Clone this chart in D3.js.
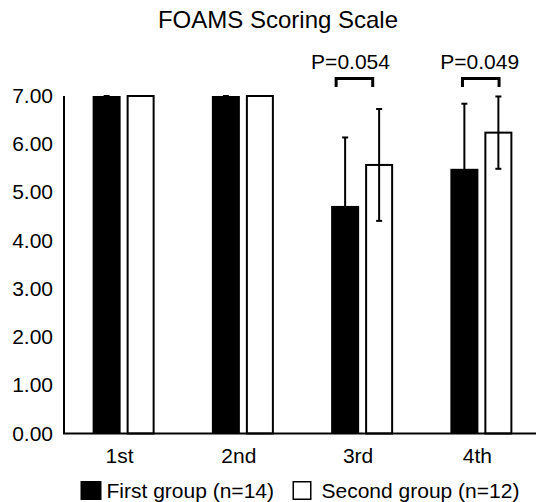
<!DOCTYPE html>
<html>
<head>
<meta charset="utf-8">
<script src="https://cdn.jsdelivr.net/npm/d3@7"></script>
<style>
  body { margin: 0; background: #fff; }
  text { font-family: "Liberation Sans", Arial, sans-serif; fill: #000; }
</style>
</head>
<body>
<div id="chart"></div>
<script>
// data
var categories = ["1st", "2nd", "3rd", "4th"];
var groups = ["First group (n=14)", "Second group (n=12)"];
var firstMean = [7.00, 7.00, 4.72, 5.49];
var firstSD = [0, 0, 1.42, 1.35];
var secondMean = [7.00, 7.00, 5.57, 6.24];
var secondSD = [0, 0, 1.16, 0.75];
var yTicks = [0, 1, 2, 3, 4, 5, 6, 7];
var pLabels = [null, null, "P=0.054", "P=0.049"];

var width = 536, height = 502;

var svg = d3.select("#chart")
  .append("svg")
    .attr("width", width)
    .attr("height", height);

// scales
var x = d3.scaleBand()
  .domain(categories)
  .range([64, 541]);

var y = d3.scaleLinear()
  .domain([0, 7])
  .range([433.5, 96]);

var barW = 28, gap = 6;

// title
svg.append("text")
  .attr("x", 278)
  .attr("y", 28)
  .attr("text-anchor", "middle")
  .style("font-size", "24px")
  .text("FOAMS Scoring Scale");

// y axis labels
svg.append("g").selectAll("text")
  .data(yTicks)
  .enter().append("text")
    .attr("x", 53)
    .attr("y", function(d) { return y(d) + 7; })
    .attr("text-anchor", "end")
    .style("font-size", "21px")
    .text(function(d) { return d.toFixed(2); });

// bars
var data = categories.map(function(c, i) {
  return [
    { cat: c, k: 0, mean: firstMean[i], sd: firstSD[i] },
    { cat: c, k: 1, mean: secondMean[i], sd: secondSD[i] }
  ];
});
var flat = [].concat.apply([], data);

function barX(d) {
  var c = x(d.cat) + x.bandwidth() / 2;
  return d.k === 0 ? c - gap / 2 - barW : c + gap / 2;
}

svg.append("g").selectAll("rect")
  .data(flat)
  .enter().append("rect")
    .attr("x", function(d) { return barX(d) + (d.k === 1 ? 1 : 0); })
    .attr("y", function(d) { return y(d.mean); })
    .attr("width", function(d) { return d.k === 1 ? barW - 2 : barW; })
    .attr("height", function(d) { return y(0) - y(d.mean); })
    .attr("fill", function(d) { return d.k === 0 ? "#000" : "#fff"; })
    .attr("stroke", "#000")
    .attr("stroke-width", function(d) { return d.k === 0 ? 0 : 2; });

// error bars
var err = svg.append("g").selectAll("g")
  .data(flat)
  .enter().append("g")
    .attr("stroke", "#000")
    .attr("stroke-width", 2);

err.append("line")
  .attr("x1", function(d) { return barX(d) + barW / 2; })
  .attr("x2", function(d) { return barX(d) + barW / 2; })
  .attr("y1", function(d) { return y(d.mean - d.sd); })
  .attr("y2", function(d) { return y(d.mean + d.sd); });

err.append("line")
  .attr("x1", function(d) { return barX(d) + barW / 2 - 3; })
  .attr("x2", function(d) { return barX(d) + barW / 2 + 3; })
  .attr("y1", function(d) { return y(d.mean + d.sd); })
  .attr("y2", function(d) { return y(d.mean + d.sd); });

err.filter(function(d) { return d.k === 1; }).append("line")
  .attr("x1", function(d) { return barX(d) + barW / 2 - 3; })
  .attr("x2", function(d) { return barX(d) + barW / 2 + 3; })
  .attr("y1", function(d) { return y(d.mean - d.sd); })
  .attr("y2", function(d) { return y(d.mean - d.sd); });

// axes lines
svg.append("line")
  .attr("x1", 64).attr("x2", 64)
  .attr("y1", y(7)).attr("y2", y(0))
  .attr("stroke", "#000").attr("stroke-width", 2);
svg.append("line")
  .attr("x1", 63).attr("x2", 541)
  .attr("y1", y(0)).attr("y2", y(0))
  .attr("stroke", "#000").attr("stroke-width", 2);

// category labels
svg.append("g").selectAll("text")
  .data(categories)
  .enter().append("text")
    .attr("x", function(d) { return x(d) + x.bandwidth() / 2 - 4; })
    .attr("y", 463)
    .attr("text-anchor", "middle")
    .style("font-size", "21px")
    .text(function(d) { return d; });

// significance brackets
var brOffset = [0, 0, -7.7, -0.6];
var txtOffset = [0, 0, -11.6, -1.7];
categories.forEach(function(c, i) {
  if (!pLabels[i]) return;
  var mid = x(c) + x.bandwidth() / 2;
  var cx = mid + brOffset[i];
  var x1 = cx - 18.3, x2 = cx + 18.3;
  svg.append("path")
    .attr("d", "M" + x1 + ",87V78.5H" + x2 + "V87")
    .attr("fill", "none")
    .attr("stroke", "#000")
    .attr("stroke-width", 3);
  svg.append("text")
    .attr("x", mid + txtOffset[i])
    .attr("y", 69)
    .attr("text-anchor", "middle")
    .style("font-size", "21px")
    .text(pLabels[i]);
});

// legend
var legend = svg.append("g");
var legX = [80.5, 292.5];
groups.forEach(function(g, i) {
  legend.append("rect")
    .attr("x", legX[i] + (i === 1 ? 0.75 : 0))
    .attr("y", 481 + (i === 1 ? 0.75 : 0))
    .attr("width", i === 1 ? 17.5 : 21)
    .attr("height", i === 1 ? 17.5 : 19)
    .attr("fill", i === 0 ? "#000" : "#fff")
    .attr("stroke", "#000")
    .attr("stroke-width", i === 0 ? 0 : 1.5);
  legend.append("text")
    .attr("x", i === 0 ? 106.5 : 321.5)
    .attr("y", 498)
    .style("font-size", "21px")
    .text(g);
});
</script>
</body>
</html>
